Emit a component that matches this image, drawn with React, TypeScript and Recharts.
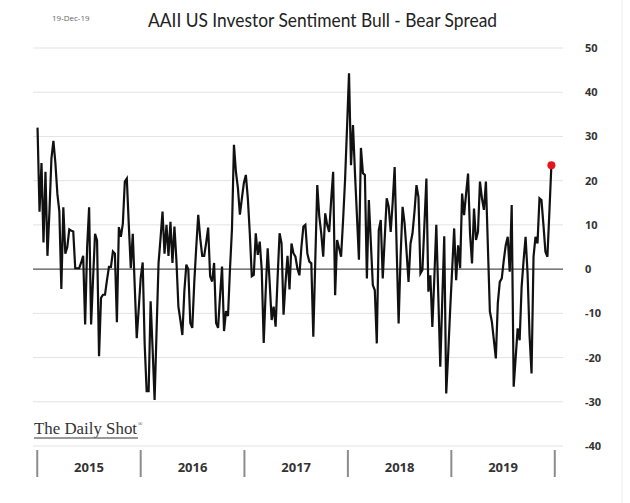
import React from "react";
import {
  LineChart,
  Line,
  XAxis,
  YAxis,
  CartesianGrid,
  ReferenceLine,
} from "recharts";

// Weekly AAII bull-bear spread, first reading 2 Jan 2015, last 19 Dec 2019
const spread = [
  32, 13, 24, 6, 22, 3, 13, 25, 29, 24,
  17, 13, -4.5, 14, 3.5, 5, 9, 8.7, 8.5, 0.2,
  0.2, 0.2, 1.5, 3, -12.5, 5, 14, -12.5, -2, 8,
  6.5, -19.7, -6.5, -5.8, -5.8, -2.5, 0.5, 0.5, 4, 3.5,
  -12, 9.5, 7.3, 10.3, 19.8, 20.5, 10, 0.2, 8, -4,
  -15.6, -9, -2, 1.5, -17, -27.6, -27.6, -7.3, -18, -29.6,
  -14, 1.4, 7, 13, 3.5, 10, 3, 10.7, 1.4, 9.6,
  2, -8.5, -11.5, -14.9, -5, 1, -0.1, -12.2, -13.3, -3,
  5, 12.3, 7, 3, 3, 6, 9.4, -1.6, -2.8, 1.4,
  -12.2, -13.3, -6, 0.6, -14, -9.5, -10.6, 0, 9, 28.1,
  22, 18.3, 12.3, 16, 19.5, 21.3, 16, 8, -1.6, -1.3,
  8.1, 3.2, 6.2, -0.1, -16.7, -5, 4.7, -3, -11.5, -8.5,
  -13, -2, 8.1, 5.8, -10.3, -3, 3, -4.6, 5.8, 3.6,
  2.8, 0.1, -1.4, 5, 9.6, 10, 3.5, 1.7, 1.3, -15.3,
  2, 19, 12, 8.1, 2.8, 12.6, 10, 8.4, 15.6, 22,
  -5.9, 6.6, 4.7, 2.8, 11, 20.1, 32, 44.3, 23.5, 32.6,
  21.7, 12, 2.1, 27.4, 21.7, 21.3, -2.1, 15.6, 6, -3.6,
  -4.8, -16.8, 8.8, 11.1, -2.1, 7, 16, 14.1, 8.4, 15,
  23.1, 5, -12.3, 3, 14.1, 10.4, 4, -2.9, 5.8, 8.1,
  13, 19, 16.3, -1, -0.2, 10, 20.5, -5.1, -1.4, -13.1,
  -2, 10, -6, -22.1, -7, 7.4, -28.1, -19, -9, 0,
  9.2, -2.5, 5.4, 0.2, 17.1, 12.2, 17, 21.6, 8, 1.3,
  13.7, 6.6, 8.4, 19.8, 16, 13.4, 19.8, 5, -9.6, -11.9,
  -16, -20.2, -7.7, -2.9, -2.1, 2, 5.4, 7.3, -0.6, 14.5,
  -26.6, -20, -13.4, -16.1, -4, 2, 7.3, -1, -15, -23.6,
  2.8, 7.3, 5.8, 16, 15.6, 10, 3.9, 2.8, 13, 23.5,
];

const years = ["2015", "2016", "2017", "2018", "2019"];
// day offsets from 1 Jan 2015 of each 1 Jan
const yearStartDays = [0, 365, 731, 1096, 1461, 1826];
const firstWeekDay = 1; // 2 Jan 2015
const yTicks = [-40, -30, -20, -10, 0, 10, 20, 30, 40, 50];

const data = spread.map((v, i) => ({ day: firstWeekDay + 7 * i, spread: v }));
const midDays = years.map((_, i) => (yearStartDays[i] + yearStartDays[i + 1]) / 2);
const xTicks = [...yearStartDays, ...midDays].sort((a, b) => a - b);

const FONT = "'Open Sans', Lato, sans-serif";

const XTick = (props: any) => {
  const { x, y, payload } = props;
  const v = payload.value;
  if (yearStartDays.includes(v)) {
    return <line x1={x} x2={x} y1={y - 4} y2={y + 23} stroke="#8c8c8c" strokeWidth={2} />;
  }
  const idx = midDays.indexOf(v);
  return (
    <text x={x} y={y + 18} textAnchor="middle" fontFamily={FONT} fontWeight={700} fontSize={13} fill="#333">
      {years[idx]}
    </text>
  );
};

const YTick = (props: any) => {
  const { x, y, payload } = props;
  return (
    <text x={x + 14} y={y + 4} textAnchor="start" fontFamily={FONT} fontWeight={700} fontSize={11} fill="#333">
      {payload.value}
    </text>
  );
};

export default function App() {
  const last = spread.length - 1;
  return (
    <div style={{ position: "absolute", left: 0, top: 0, width: 630, height: 503, background: "#fff" }}>
      <LineChart width={630} height={503} data={data} margin={{ top: 48, right: 0, bottom: 0, left: 33 }}>
        <CartesianGrid vertical={false} stroke="#e3e3e3" />
        <XAxis
          dataKey="day"
          type="number"
          domain={[-15, 1855]}
          ticks={xTicks}
          interval={0}
          height={57}
          axisLine={false}
          tickLine={false}
          tick={(p: any) => <XTick {...p} />}
        />
        <YAxis
          orientation="right"
          type="number"
          domain={[-40, 50]}
          ticks={yTicks}
          interval={0}
          width={67}
          axisLine={false}
          tickLine={false}
          tick={(p: any) => <YTick {...p} />}
        />
        <ReferenceLine y={0} stroke="#333" strokeWidth={1} />
        <Line
          type="linear"
          dataKey="spread"
          stroke="#111"
          strokeWidth={2.2}
          isAnimationActive={false}
          dot={(p: any) =>
            p.index === last ? (
              <circle key="last" cx={p.cx} cy={p.cy} r={4} fill="#e8141b" stroke="none" />
            ) : (
              <g key={p.index} />
            )
          }
          activeDot={false}
        />
      </LineChart>
      <svg
        width={630}
        height={503}
        style={{ position: "absolute", left: 0, top: 0, pointerEvents: "none" }}
      >
        <text x={52} y={21} fontFamily={FONT} fontSize={8} fill="#666">
          19-Dec-19
        </text>
        <text
          x={148}
          y={27}
          fontFamily="Lato, 'Open Sans', sans-serif"
          fontSize={19}
          fill="#222"
          textLength={349}
          lengthAdjust="spacingAndGlyphs"
        >
          AAII US Investor Sentiment Bull - Bear Spread
        </text>
        <text
          x={34}
          y={434}
          fontFamily="'Liberation Serif', 'DejaVu Serif', serif"
          fontSize={16}
          fill="#333"
          textLength={103}
          lengthAdjust="spacingAndGlyphs"
        >
          The Daily Shot
        </text>
        <text x={138} y={426} fontFamily="'Liberation Serif', serif" fontSize={6} fill="#444">
          ®
        </text>
        <line x1={34} x2={138} y1={438} y2={438} stroke="#777" strokeWidth={1.5} />
        <line x1={622} x2={622} y1={0} y2={503} stroke="#ececec" strokeWidth={1} />
      </svg>
    </div>
  );
}
